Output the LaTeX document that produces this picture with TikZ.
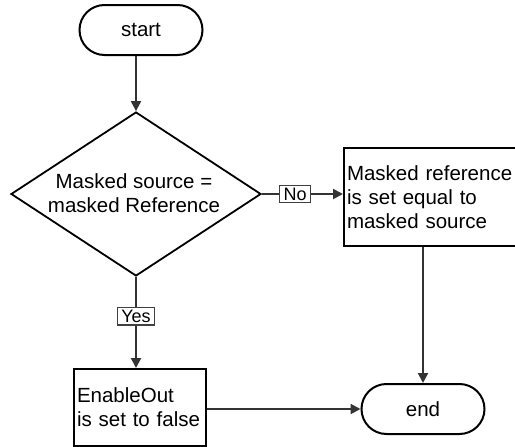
\documentclass[tikz,border=0pt]{standalone}
\usepackage{fontspec}
\setmainfont{Liberation Sans}
\usetikzlibrary{shapes.geometric,arrows.meta}
\tikzset{
  every node/.style={font=\fontsize{20.5}{24}\selectfont},
  terminal/.style={draw=black, line width=2pt, rounded corners=25pt, minimum width=123pt, minimum height=50pt, inner sep=0pt, fill=white},
  procbox/.style={draw=black, line width=2pt, fill=white, align=left, inner sep=3pt, anchor=north west},
  decision/.style={draw=black, line width=1.8pt, shape=diamond, minimum width=250pt, minimum height=164pt, inner sep=0pt},
  edgelabel/.style={draw=black!75, line width=1.4pt, fill=white, inner xsep=4pt, inner ysep=2.5pt, font=\fontsize{18}{20}\selectfont},
  conn/.style={draw=black!80, line width=2pt, -{Triangle[length=10pt,width=10pt]}},
}
\begin{document}
\begin{tikzpicture}[x=1pt,y=-1pt]
\useasboundingbox (0,0) rectangle (515,447);
\node[terminal] (start) at (141,30) {start};
\node[decision] (dec) at (136,194) {};
\node[align=center, inner sep=0pt] (dectext) at (134,193) {Masked source =\\masked Reference};
\node[procbox, minimum width=190pt, minimum height=98pt, text width=184pt] (setref) at (343,147) {Masked reference\\is set equal to\\masked source};
\node[procbox, minimum width=132pt, minimum height=77pt, text width=126pt] (enable) at (73,368) {EnableOut\\is set to false};
\node[terminal] (end) at (423,409) {end};

\draw[conn] (start.south -| dec.north) -- (dec.north);
\draw[conn] (dec.east) -- node[edgelabel, pos=0.41] (no) {No} (dec.east -| setref.west);
\draw[conn] (dec.south) -- node[edgelabel, pos=0.43] (yes) {Yes} (enable.north -| dec.south);
\draw[conn] (setref.south -| end.north) -- (end.north);
\draw[conn] (enable.east |- end.west) -- (end.west);
\end{tikzpicture}
\end{document}
